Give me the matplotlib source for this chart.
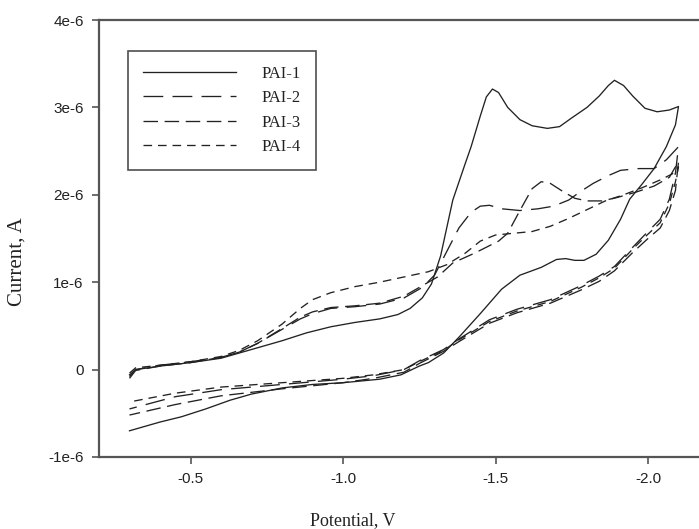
import matplotlib
matplotlib.use("Agg")
import matplotlib.pyplot as plt
import numpy as np

# potentials (V) and currents (uA), full cycle
pai1_E = [-0.30, -0.32, -0.40, -0.50, -0.60, -0.66, -0.72, -0.80, -0.88, -0.96, -1.04, -1.12, -1.18,
          -1.22, -1.26, -1.29, -1.32, -1.36, -1.40, -1.42, -1.45, -1.47, -1.49, -1.51, -1.54, -1.58,
          -1.62, -1.67, -1.71, -1.75, -1.80, -1.84, -1.87, -1.89, -1.92, -1.95, -1.99, -2.03, -2.07,
          -2.10,
          -2.09, -2.06, -2.02, -1.98, -1.94, -1.91, -1.87, -1.83, -1.79, -1.76, -1.73, -1.70, -1.65,
          -1.58, -1.52, -1.45, -1.38, -1.33, -1.28, -1.25, -1.19, -1.12, -1.00, -0.90, -0.80, -0.70,
          -0.63, -0.55, -0.47, -0.40, -0.30]
pai1_I = [-0.06, 0.00, 0.04, 0.08, 0.13, 0.19, 0.25, 0.33, 0.42, 0.49, 0.54, 0.58, 0.63,
          0.70, 0.82, 0.98, 1.30, 1.94, 2.35, 2.55, 2.90, 3.12, 3.21, 3.17, 3.00, 2.86,
          2.79, 2.76, 2.78, 2.88, 3.00, 3.13, 3.25, 3.31, 3.25, 3.13, 2.99, 2.95, 2.97,
          3.01,
          2.80, 2.55, 2.30, 2.12, 1.95, 1.72, 1.48, 1.32, 1.25, 1.25, 1.27, 1.26, 1.17,
          1.08, 0.92, 0.64, 0.37, 0.19, 0.08, 0.04, -0.06, -0.11, -0.15, -0.17, -0.21, -0.28,
          -0.35, -0.45, -0.54, -0.60, -0.70]

pai2_E = [-0.30, -0.32, -0.40, -0.50, -0.60, -0.66, -0.72, -0.80, -0.86, -0.90, -0.96, -1.04, -1.12,
          -1.20, -1.26, -1.30, -1.34, -1.38, -1.42, -1.45, -1.48, -1.52, -1.58, -1.64, -1.69, -1.74,
          -1.78, -1.82, -1.87, -1.91, -1.97, -2.02, -2.06, -2.10,
          -2.09, -2.07, -2.04, -2.00, -1.95, -1.89, -1.84, -1.78, -1.68, -1.57, -1.48, -1.38, -1.33,
          -1.25, -1.20, -1.10, -1.00, -0.80, -0.60, -0.45, -0.30]
pai2_I = [-0.08, 0.00, 0.05, 0.09, 0.14, 0.20, 0.30, 0.46, 0.58, 0.64, 0.70, 0.72, 0.75,
          0.82, 0.94, 1.08, 1.35, 1.62, 1.80, 1.87, 1.88, 1.84, 1.82, 1.84, 1.87, 1.94,
          2.04, 2.13, 2.22, 2.28, 2.30, 2.30, 2.40, 2.55,
          2.25, 1.95, 1.72, 1.58, 1.40, 1.18, 1.07, 0.96, 0.80, 0.69, 0.57, 0.35, 0.23,
          0.10, 0.00, -0.07, -0.11, -0.17, -0.23, -0.31, -0.45]

pai3_E = [-0.30, -0.32, -0.40, -0.50, -0.60, -0.66, -0.72, -0.80, -0.86, -0.90, -0.96, -1.04, -1.12,
          -1.20, -1.26, -1.31, -1.36, -1.43, -1.47, -1.51, -1.54, -1.58, -1.62, -1.65, -1.68, -1.72,
          -1.76, -1.80, -1.85, -1.90, -1.96, -2.02, -2.07, -2.10,
          -2.09, -2.07, -2.04, -2.00, -1.95, -1.89, -1.84, -1.78, -1.68, -1.57, -1.48, -1.38, -1.33,
          -1.25, -1.20, -1.10, -1.00, -0.80, -0.60, -0.45, -0.30]
pai3_I = [-0.10, -0.01, 0.04, 0.08, 0.14, 0.20, 0.30, 0.47, 0.60, 0.66, 0.71, 0.73, 0.76,
          0.84, 0.96, 1.06, 1.22, 1.33, 1.40, 1.47, 1.56, 1.82, 2.07, 2.15, 2.13, 2.04,
          1.96, 1.93, 1.93, 1.97, 2.03, 2.10, 2.20, 2.38,
          2.05, 1.82, 1.62, 1.50, 1.34, 1.13, 1.01, 0.91, 0.76, 0.65, 0.53, 0.32, 0.21,
          0.07, -0.03, -0.10, -0.15, -0.22, -0.30, -0.40, -0.52]

pai4_E = [-0.30, -0.32, -0.40, -0.50, -0.60, -0.66, -0.72, -0.80, -0.86, -0.90, -0.96, -1.04, -1.12,
          -1.20, -1.28, -1.34, -1.40, -1.45, -1.50, -1.56, -1.62, -1.68, -1.74, -1.80, -1.86, -1.92,
          -1.98, -2.04, -2.08, -2.10,
          -2.09, -2.07, -2.04, -2.00, -1.95, -1.89, -1.84, -1.78, -1.68, -1.57, -1.48, -1.38, -1.33,
          -1.25, -1.20, -1.10, -1.00, -0.80, -0.60, -0.45, -0.30]
pai4_I = [-0.04, 0.02, 0.05, 0.09, 0.15, 0.22, 0.33, 0.52, 0.70, 0.80, 0.88, 0.95, 1.00,
          1.06, 1.12, 1.20, 1.33, 1.47, 1.54, 1.56, 1.58, 1.64, 1.73, 1.83, 1.93, 2.00,
          2.08, 2.17, 2.24, 2.32,
          2.15, 1.90, 1.68, 1.55, 1.38, 1.16, 1.05, 0.94, 0.78, 0.67, 0.55, 0.34, 0.22,
          0.09, 0.00, -0.06, -0.10, -0.15, -0.20, -0.27, -0.37]

labels = ["PAI-1", "PAI-2", "PAI-3", "PAI-4"]
x_ticks = [-0.5, -1.0, -1.5, -2.0]
x_tick_labels = ["-0.5", "-1.0", "-1.5", "-2.0"]
y_ticks = [-1e-6, 0, 1e-6, 2e-6, 3e-6, 4e-6]
y_tick_labels = ["-1e-6", "0", "1e-6", "2e-6", "3e-6", "4e-6"]

series = [(pai1_E, pai1_I), (pai2_E, pai2_I), (pai3_E, pai3_I), (pai4_E, pai4_I)]
dashes = [None, (15, 7), (11, 5), (6.5, 4.5)]
line_color = "#222222"
spine_color = "#555555"

fig = plt.figure(figsize=(6.99, 5.29), dpi=100)
W, H = 699, 529
# axes run off the right edge of the picture, as in the original crop
ax = fig.add_axes([99 / W, (H - 457) / H, 610 / W, 437 / H])

for (E, I), lab, d in zip(series, labels, dashes):
    line, = ax.plot(E, np.array(I) * 1e-6, color=line_color, lw=0.95, label=lab)
    if d is not None:
        line.set_dashes(d)

ax.set_xlim(-0.2, -2.2)
ax.set_ylim(-1e-6, 4e-6)
ax.set_xticks(x_ticks)
ax.set_xticklabels(x_tick_labels)
ax.set_yticks(y_ticks)
ax.set_yticklabels(y_tick_labels)

for lbl in ax.get_xticklabels() + ax.get_yticklabels():
    lbl.set_fontfamily("Liberation Sans")
    lbl.set_fontsize(11)
    lbl.set_color("#222222")
ax.tick_params(direction="out", length=5, width=1.2, color=spine_color)
ax.tick_params(axis="y", pad=6)
ax.tick_params(axis="x", pad=6)

ax.spines["right"].set_visible(False)
for s in ["left", "bottom", "top"]:
    ax.spines[s].set_color(spine_color)
    ax.spines[s].set_linewidth(1.6)

ax.set_xlabel("Potential, V", fontfamily="Liberation Serif", fontsize=13, color="#222222")
ax.set_ylabel("Current, A", fontfamily="Liberation Serif", fontsize=15, color="#222222")
ax.xaxis.set_label_coords((353 - 99) / 610, -0.125)
ax.yaxis.set_label_coords((27 - 99) / 610, (457 - 262) / 437)

leg = ax.legend(loc="upper left", bbox_to_anchor=((128 - 99) / 610, (457 - 51) / 437),
                borderaxespad=0, prop={"family": "Liberation Serif", "size": 12},
                handlelength=5.6, handletextpad=1.5, labelspacing=0.5,
                borderpad=0.9, fancybox=False, frameon=True)
leg.get_frame().set_edgecolor("#222222")
leg.get_frame().set_linewidth(1.2)
for t in leg.get_texts():
    t.set_color("#222222")

fig.savefig("out.png", dpi=100)
